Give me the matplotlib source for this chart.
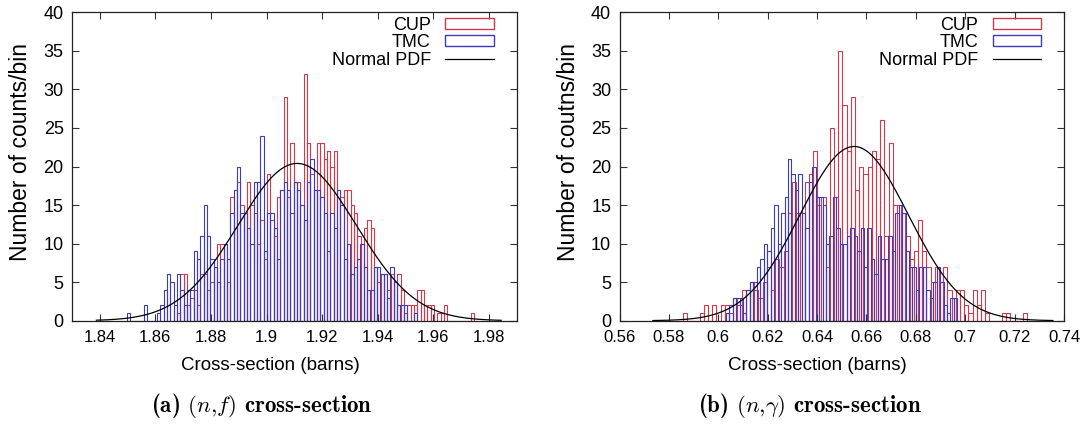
import numpy as np
import matplotlib
matplotlib.use("Agg")
import matplotlib.pyplot as plt
from matplotlib.patches import Patch
from matplotlib.lines import Line2D

plt.rcParams["mathtext.fontset"] = "cm"

# ---------------- data ----------------
# (a) (n,f) cross-section
nf_cup_start = 1.8678
nf_cup_width = 0.0012
nf_cup_counts = [1, 6, 6, 2, 3, 4, 2, 6, 6, 4,
                 5, 7, 10, 10, 10, 5, 16, 12, 18, 15,
                 14, 18, 15, 14, 10, 13, 8, 19, 13, 11,
                 16, 17, 29, 16, 23, 18, 18, 15, 32, 23,
                 19, 17, 23, 23, 21, 22, 20, 22, 17, 16,
                 17, 17, 15, 14, 11, 10, 12, 13, 12, 7,
                 5, 6, 6, 4, 6, 5, 6, 4, 1, 2,
                 2, 2, 4, 4, 2, 2, 2, 0, 1, 1,
                 2, 0, 0, 0, 0, 0, 0, 0, 1]
nf_tmc_start = 1.84975
nf_tmc_width = 0.0012
nf_tmc_counts = [1, 0, 0, 0, 0, 2, 0, 0, 0, 1,
                 2, 4, 6, 5, 2, 6, 4, 2, 4, 4,
                 9, 8, 11, 15, 11, 8, 7, 5, 8, 10,
                 8, 14, 17, 20, 14, 14, 12, 10, 18, 18,
                 24, 9, 14, 14, 12, 8, 17, 18, 17, 14,
                 18, 17, 15, 13, 18, 21, 17, 17, 16, 14,
                 9, 14, 12, 17, 15, 8, 10, 6, 7, 8,
                 10, 7, 4, 4, 7, 7, 6, 6, 3, 7,
                 5, 2, 2, 2, 0, 0, 1]
nf_pdf_mean, nf_pdf_sigma, nf_pdf_peak = 1.911, 0.0213, 20.4
nf_pdf_range = (1.8388, 1.9844)
nf_xticks = [1.84, 1.86, 1.88, 1.90, 1.92, 1.94, 1.96, 1.98]
nf_xticklabels = ["1.84", "1.86", "1.88", "1.9", "1.92", "1.94", "1.96", "1.98"]
nf_xlim = (1.83, 1.99)

# (b) (n,gamma) cross-section
ng_cup_start = 0.58565
ng_cup_width = 0.0017
ng_cup_counts = [1, 0, 0, 0, 1, 2, 0, 2, 0, 2,
                 2, 1, 3, 2, 4, 4, 5, 4, 3, 5,
                 7, 4, 8, 7, 9, 14, 18, 14, 14, 18,
                 19, 22, 15, 16, 7, 25, 16, 35, 28, 22,
                 29, 17, 20, 19, 20, 22, 21, 26, 11, 23,
                 15, 15, 14, 11, 8, 9, 13, 9, 7, 5,
                 7, 5, 7, 4, 3, 4, 4, 2, 1, 4,
                 2, 4, 1, 0, 0, 0, 1, 1, 0, 0,
                 0, 1]
ng_tmc_start = 0.6030
ng_tmc_width = 0.0014
ng_tmc_counts = [1, 2, 3, 3, 3, 1, 4, 5, 5, 7,
                 8, 10, 9, 12, 15, 10, 14, 16, 21, 19,
                 17, 19, 14, 12, 18, 20, 16, 16, 15, 10,
                 11, 16, 12, 10, 10, 11, 12, 11, 9, 12,
                 7, 12, 8, 6, 11, 8, 8, 11, 9, 14,
                 15, 14, 9, 7, 7, 4, 7, 7, 4, 3,
                 5, 7, 5, 2, 1, 3, 3]
ng_pdf_mean, ng_pdf_sigma, ng_pdf_peak = 0.655, 0.022, 22.6
ng_pdf_range = (0.5735, 0.7355)
ng_xticks = [0.56, 0.58, 0.60, 0.62, 0.64, 0.66, 0.68, 0.70, 0.72, 0.74]
ng_xticklabels = ["0.56", "0.58", "0.6", "0.62", "0.64", "0.66", "0.68", "0.7", "0.72", "0.74"]
ng_xlim = (0.56, 0.74)

yticks = [0, 5, 10, 15, 20, 25, 30, 35, 40]
legend_labels = ["CUP", "TMC", "Normal PDF"]

RED = "#cf3a4c"
BLUE = "#3c3cbe"
SANS = ["Liberation Sans", "DejaVu Sans"]

fig = plt.figure(figsize=(10.89, 4.32), dpi=100)
ax1 = fig.add_axes([0.0661, 0.2576, 0.4084, 0.7139])
ax2 = fig.add_axes([0.5689, 0.2576, 0.4082, 0.7139])


def panel(ax, cup_start, cup_w, cup_counts, tmc_start, tmc_w, tmc_counts,
          mu, sig, peak, pdf_range, xlim, xticks, xticklabels, ylabel):
    cup_x = cup_start + cup_w * np.arange(len(cup_counts))
    tmc_x = tmc_start + tmc_w * np.arange(len(tmc_counts))
    ax.bar(cup_x, cup_counts, width=cup_w, align="edge", fill=False,
           edgecolor=RED, linewidth=0.8)
    ax.bar(tmc_x, tmc_counts, width=tmc_w, align="edge", fill=False,
           edgecolor=BLUE, linewidth=0.8)
    xs = np.linspace(pdf_range[0], pdf_range[1], 500)
    ax.plot(xs, peak * np.exp(-0.5 * ((xs - mu) / sig) ** 2),
            color="black", linewidth=0.9)
    ax.set_xlim(*xlim)
    ax.set_ylim(0, 40)
    ax.set_xticks(xticks, xticklabels, fontfamily=SANS, fontsize=12)
    ax.set_yticks(yticks, [str(t) for t in yticks], fontfamily=SANS, fontsize=13)
    ax.tick_params(direction="in", length=5, width=0.8, top=True, right=True,
                   color="#333333")
    ax.tick_params(axis="x", pad=7)
    ax.tick_params(axis="y", pad=6)
    for s in ax.spines.values():
        s.set_linewidth(0.9)
        s.set_color("#222222")
    ax.set_xlabel("Cross-section (barns)", fontfamily=SANS, fontsize=13.5)
    ax.xaxis.set_label_coords(0.445, -0.118)
    ax.set_ylabel(ylabel, fontfamily=SANS, fontsize=16.5)
    ax.yaxis.set_label_coords(-0.09, 0.547)
    handles = [Patch(facecolor="none", edgecolor=RED, linewidth=1.0),
               Patch(facecolor="none", edgecolor=BLUE, linewidth=1.0),
               Line2D([0], [0], color="black", linewidth=0.9)]
    ax.legend(handles, legend_labels, loc="upper right",
              bbox_to_anchor=(0.949, 0.985), borderaxespad=0, borderpad=0,
              markerfirst=False, frameon=False,
              prop={"family": SANS, "size": 13},
              handlelength=2.7, handleheight=0.55, handletextpad=0.8,
              labelspacing=0.02)


panel(ax1, nf_cup_start, nf_cup_width, nf_cup_counts,
      nf_tmc_start, nf_tmc_width, nf_tmc_counts,
      nf_pdf_mean, nf_pdf_sigma, nf_pdf_peak, nf_pdf_range,
      nf_xlim, nf_xticks, nf_xticklabels, "Number of counts/bin")
panel(ax2, ng_cup_start, ng_cup_width, ng_cup_counts,
      ng_tmc_start, ng_tmc_width, ng_tmc_counts,
      ng_pdf_mean, ng_pdf_sigma, ng_pdf_peak, ng_pdf_range,
      ng_xlim, ng_xticks, ng_xticklabels, "Number of coutns/bin")

fig.text(262 / 1089, 1 - 405 / 432, r"(a) $(n{,}f)$ cross-section",
         ha="center", va="center", fontfamily="cmb10", fontsize=16.5)
fig.text(810 / 1089, 1 - 405 / 432, r"(b) $(n{,}\gamma)$ cross-section",
         ha="center", va="center", fontfamily="cmb10", fontsize=16.5)

fig.savefig("out.png", dpi=100)
